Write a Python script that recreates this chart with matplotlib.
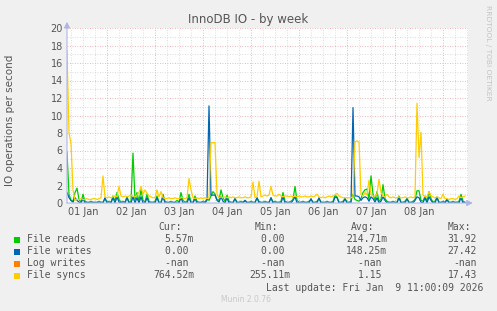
import numpy as np
import pandas as pd
import matplotlib
matplotlib.use("Agg")
import matplotlib.pyplot as plt
import matplotlib.patches as patches

# hourly samples from Jan 1 04:00 to Jan 9 11:00
times = pd.date_range("2026-01-01 04:00", periods=200, freq="h")

file_reads = [
    5.8, 1.0, 0.3, 0.2, 1.2, 1.7, 0.4, 0.1, 1.0, 0.2, 0.1, 0.1, 0.2, 0.1, 0.1, 0.1, 0.2, 0.1, 0.1, 0.5,
    0.1, 0.2, 0.1, 0.8, 0.2, 1.2, 0.4, 0.1, 0.2, 0.1, 0.7, 0.1, 0.2, 5.7, 0.3, 1.2, 0.2, 1.5, 0.3, 0.1,
    1.0, 0.2, 0.1, 0.1, 0.2, 0.8, 0.1, 0.1, 1.0, 0.2, 0.1, 0.1, 0.2, 0.1, 0.1, 0.3, 0.1, 1.2, 0.3, 0.1,
    0.2, 1.0, 0.1, 0.1, 0.8, 0.2, 0.1, 0.1, 0.2, 0.1, 0.5, 0.3, 0.8, 1.3, 1.0, 0.4, 0.3, 1.5, 0.6, 0.2,
    0.9, 0.2, 0.1, 0.1, 0.5, 0.1, 0.1, 0.2, 0.1, 0.3, 0.1, 0.1, 0.2, 0.1, 0.1, 0.6, 0.2, 0.1, 0.1, 0.2,
    0.1, 0.1, 0.6, 0.1, 0.2, 0.1, 0.1, 0.2, 1.2, 0.2, 0.1, 0.1, 0.2, 0.4, 1.9, 0.3, 0.1, 0.1, 0.2, 0.1,
    0.1, 0.2, 0.4, 0.1, 0.1, 0.2, 0.5, 0.1, 0.1, 0.1, 0.2, 0.1, 0.1, 0.2, 0.9, 0.7, 0.1, 0.1, 0.2, 0.5,
    0.1, 0.1, 0.2, 1.0, 0.4, 0.3, 0.2, 0.5, 1.2, 1.5, 1.6, 0.4, 3.1, 1.0, 0.3, 1.3, 0.2, 0.4, 2.1, 0.5,
    0.2, 0.1, 0.1, 0.2, 0.1, 0.1, 0.8, 0.1, 0.1, 0.2, 0.5, 0.1, 0.1, 0.2, 0.4, 1.4, 1.4, 0.3, 0.2, 0.8,
    0.2, 1.3, 0.5, 0.1, 0.2, 0.7, 0.1, 0.1, 0.2, 0.1, 0.4, 0.1, 0.1, 0.2, 0.1, 0.1, 0.2, 1.0, 0.2, 0.1,
]

file_writes = [
    1.2, 0.6, 0.3, 0.1, 0.6, 0.3, 0.1, 0.0, 0.5, 0.0, 0.0, 0.0, 0.0, 0.0, 0.0, 0.0, 0.0, 0.0, 0.0, 0.6,
    0.0, 0.0, 0.0, 0.6, 0.0, 0.7, 0.1, 0.0, 0.0, 0.0, 0.6, 0.0, 0.0, 0.7, 0.0, 0.6, 0.0, 0.7, 0.0, 0.0,
    0.6, 0.0, 0.0, 0.0, 0.0, 0.6, 0.0, 0.0, 0.7, 0.0, 0.0, 0.0, 0.0, 0.0, 0.0, 0.0, 0.0, 0.6, 0.0, 0.0,
    0.0, 0.6, 0.0, 0.0, 0.5, 0.0, 0.0, 0.0, 0.0, 0.0, 0.3, 11.1, 0.9, 0.9, 0.9, 0.3, 0.1, 0.7, 0.2, 0.0,
    0.6, 0.0, 0.0, 0.0, 0.5, 0.0, 0.0, 0.0, 0.0, 0.3, 0.0, 0.0, 0.0, 0.0, 0.0, 0.6, 0.0, 0.0, 0.0, 0.0,
    0.0, 0.0, 0.6, 0.0, 0.0, 0.0, 0.0, 0.0, 0.7, 0.0, 0.0, 0.0, 0.0, 0.3, 0.7, 0.0, 0.0, 0.0, 0.0, 0.0,
    0.0, 0.0, 0.5, 0.0, 0.0, 0.0, 0.6, 0.0, 0.0, 0.0, 0.0, 0.0, 0.0, 0.0, 0.7, 0.6, 0.0, 0.0, 0.0, 0.5,
    0.0, 0.0, 0.0, 10.9, 0.8, 0.8, 0.7, 0.3, 0.6, 0.7, 0.6, 0.2, 0.7, 0.5, 0.1, 0.6, 0.0, 0.2, 0.7, 0.3,
    0.0, 0.0, 0.0, 0.0, 0.0, 0.0, 0.6, 0.0, 0.0, 0.0, 0.5, 0.0, 0.0, 0.0, 0.3, 0.7, 0.6, 0.1, 0.0, 0.6,
    0.0, 0.7, 0.3, 0.0, 0.0, 0.6, 0.0, 0.0, 0.0, 0.0, 0.4, 0.0, 0.0, 0.0, 0.0, 0.0, 0.0, 0.6, 0.0, 0.0,
]

file_syncs = [
    17.4, 8.0, 6.8, 1.5, 0.3, 0.4, 0.4, 0.5, 0.4, 0.4, 0.5, 0.4, 0.4, 0.5, 0.5, 0.4, 0.5, 0.6, 3.1, 0.7,
    0.6, 0.7, 0.6, 0.7, 0.8, 0.7, 1.9, 0.8, 0.7, 0.8, 0.7, 0.8, 0.9, 0.8, 0.7, 0.9, 1.2, 1.9, 1.0, 1.5,
    1.1, 0.8, 0.7, 0.6, 0.6, 1.5, 0.7, 1.3, 0.6, 0.5, 0.5, 0.6, 0.5, 0.5, 0.6, 0.5, 0.5, 0.6, 0.6, 0.5,
    0.6, 2.8, 1.5, 0.6, 0.5, 0.6, 0.5, 0.6, 0.5, 0.6, 0.5, 0.6, 6.9, 6.9, 6.9, 1.0, 0.6, 0.7, 0.6, 0.7,
    0.6, 0.7, 0.6, 0.7, 0.6, 0.6, 0.7, 0.6, 0.6, 0.7, 0.6, 0.6, 0.7, 2.4, 0.6, 0.7, 2.5, 0.7, 0.8, 0.9,
    0.8, 0.9, 1.9, 0.9, 0.8, 0.8, 1.0, 0.8, 0.7, 0.8, 0.8, 0.7, 0.8, 0.7, 0.8, 0.7, 0.8, 0.7, 0.7, 0.8,
    0.7, 0.7, 0.8, 0.7, 0.8, 1.0, 0.7, 0.6, 0.7, 0.6, 0.7, 0.8, 0.7, 0.8, 0.9, 1.1, 0.8, 0.7, 0.6, 0.6,
    0.6, 0.6, 0.6, 0.7, 7.0, 7.1, 7.0, 1.0, 0.8, 1.2, 0.9, 2.6, 1.0, 0.8, 0.8, 1.0, 2.7, 1.2, 0.8, 0.7,
    1.0, 0.7, 0.6, 0.7, 0.6, 0.6, 0.7, 0.6, 0.6, 0.7, 0.6, 0.6, 0.7, 0.6, 0.7, 11.4, 5.2, 8.1, 0.9, 0.7,
    0.7, 1.3, 0.8, 0.7, 0.6, 0.7, 0.6, 0.5, 1.0, 0.5, 0.5, 0.4, 0.5, 0.5, 0.4, 0.5, 0.8, 0.6, 0.7, 0.8,
]

series_names = ["File reads", "File writes", "Log writes", "File syncs"]
series_colors = ["#00CC00", "#0066B3", "#FF8000", "#FFCC00"]
cur_vals = ["5.57m", "0.00 ", "-nan ", "764.52m"]
min_vals = ["0.00 ", "0.00 ", "-nan ", "255.11m"]
avg_vals = ["214.71m", "148.25m", "-nan ", "1.15 "]
max_vals = ["31.92", "27.42", "-nan", "17.43"]

day_labels = ["01 Jan", "02 Jan", "03 Jan", "04 Jan", "05 Jan", "06 Jan", "07 Jan", "08 Jan"]
y_ticks = list(range(0, 21, 2))

W, H = 497, 311
BG = "#F0F0F0"
TXT = "#555555"
MONO = "DejaVu Sans Mono"

fig = plt.figure(figsize=(W / 100, H / 100), dpi=100, facecolor=BG)
# plot area in pixels: x 67..468, y 28..203
ax = fig.add_axes([67 / W, (H - 203) / H, (468 - 67) / W, (203 - 28) / H])
ax.set_facecolor("white")

t0 = pd.Timestamp("2026-01-01 04:00")
t1 = pd.Timestamp("2026-01-09 12:30")
ax.set_xlim(t0, t1)
ax.set_ylim(0, 20)

# grid, rrdtool style
dots = (0, (1, 2))
minor_col = "#D0D0D0"
major_col = "#E8A0A0"
for v in range(1, 20, 2):
    ax.axhline(v, color=minor_col, lw=0.6, ls=dots, zorder=0)
for v in range(2, 21, 2):
    ax.axhline(v, color=major_col, lw=0.6, ls=dots, zorder=0)
for t in pd.date_range("2026-01-01 06:00", t1, freq="6h"):
    if t.hour == 0:
        ax.axvline(t, color=major_col, lw=0.6, ls=dots, zorder=0)
    else:
        ax.axvline(t, color=minor_col, lw=0.6, ls=dots, zorder=0)

ax.plot(times, file_reads, color=series_colors[0], lw=0.9, zorder=2)
ax.plot(times, file_writes, color=series_colors[1], lw=0.9, zorder=3)
ax.plot(times, file_syncs, color=series_colors[3], lw=0.9, zorder=4)

for s in ax.spines.values():
    s.set_visible(False)

noon = pd.date_range("2026-01-01 12:00", periods=len(day_labels), freq="D")
ax.set_xticks(noon)
ax.set_xticklabels(day_labels)
ax.set_yticks(y_ticks)
ax.tick_params(axis="both", length=0, labelsize=7, labelcolor=TXT, pad=3)

# axes with arrows
axis_col = "#AEB6E6"
ax.annotate("", xy=(1.012, 0), xytext=(0, 0), xycoords="axes fraction",
            arrowprops=dict(arrowstyle="-|>,head_width=0.18,head_length=0.35",
                            color=axis_col, lw=0.8, shrinkA=0, shrinkB=0), zorder=5)
ax.annotate("", xy=(0, 1.035), xytext=(0, 0), xycoords="axes fraction",
            arrowprops=dict(arrowstyle="-|>,head_width=0.18,head_length=0.35",
                            color=axis_col, lw=0.8, shrinkA=0, shrinkB=0), zorder=5)

fig.text(248 / W, 1 - 19 / H, "InnoDB IO - by week", ha="center", va="center",
         fontsize=8.5, color=TXT)
fig.text(10 / W, 1 - 120 / H, "IO operations per second", rotation=90,
         ha="center", va="center", fontsize=7.5, color=TXT)
fig.text(488 / W, 1 - 5 / H, "RRDTOOL / TOBI OETIKER", rotation=270,
         ha="center", va="top", fontsize=5.4, color="#C4C4C4")

# legend block
fs = 7
hy = 227
fig.text(182 / W, 1 - hy / H, "Cur:", ha="right", va="center", family=MONO, fontsize=fs, color=TXT)
fig.text(278 / W, 1 - hy / H, "Min:", ha="right", va="center", family=MONO, fontsize=fs, color=TXT)
fig.text(374 / W, 1 - hy / H, "Avg:", ha="right", va="center", family=MONO, fontsize=fs, color=TXT)
fig.text(471 / W, 1 - hy / H, "Max:", ha="right", va="center", family=MONO, fontsize=fs, color=TXT)

rows_y = [239.5, 251.5, 263.5, 275.5]
for i, name in enumerate(series_names):
    y = rows_y[i]
    fig.add_artist(patches.Rectangle((14 / W, 1 - (y + 3) / H), 6 / W, 6 / H,
                                     transform=fig.transFigure, facecolor=series_colors[i],
                                     edgecolor="none"))
    fig.text(27 / W, 1 - y / H, name, ha="left", va="center", family=MONO, fontsize=fs, color=TXT)
    fig.text(194 / W, 1 - y / H, cur_vals[i], ha="right", va="center", family=MONO, fontsize=fs, color=TXT)
    fig.text(290 / W, 1 - y / H, min_vals[i], ha="right", va="center", family=MONO, fontsize=fs, color=TXT)
    fig.text(387 / W, 1 - y / H, avg_vals[i], ha="right", va="center", family=MONO, fontsize=fs, color=TXT)
    fig.text(477 / W, 1 - y / H, max_vals[i], ha="right", va="center", family=MONO, fontsize=fs, color=TXT)

fig.text(483 / W, 1 - 288 / H, "Last update: Fri Jan  9 11:00:09 2026", ha="right", va="center",
         family=MONO, fontsize=fs, color=TXT)
fig.text(246 / W, 1 - 300 / H, "Munin 2.0.76", ha="center", va="center",
         fontsize=5.5, color="#C8C8C8")

fig.savefig("out.png", dpi=100, facecolor=BG)
